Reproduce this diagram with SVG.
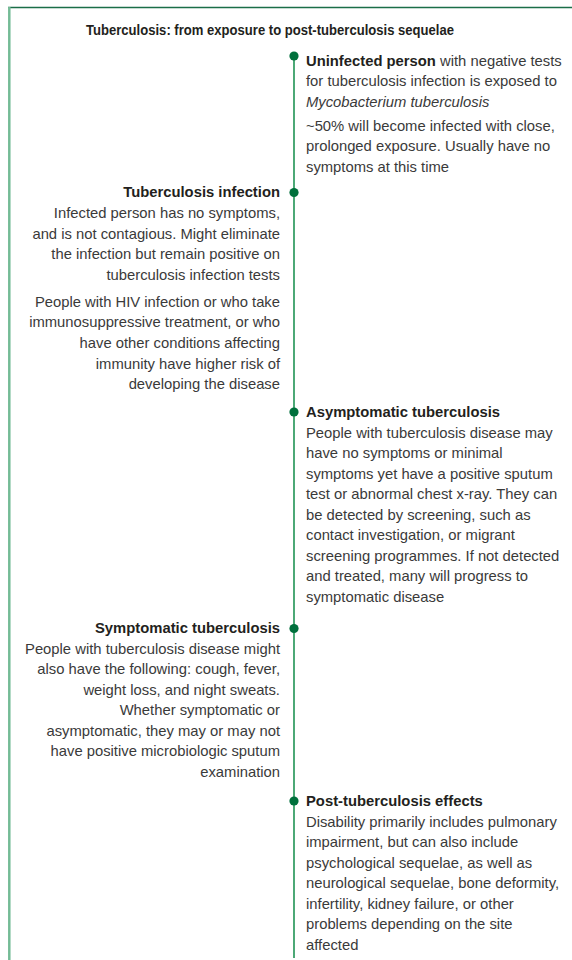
<svg xmlns="http://www.w3.org/2000/svg" width="572" height="960" viewBox="0 0 572 960">
<style>
text{font-family:"Liberation Sans",Arial,sans-serif;font-size:14.8px;fill:#3a3a3a}
.t{font-weight:bold;font-size:14.2px;fill:#231f20}
.h{font-weight:bold;fill:#231f20}
.r{text-anchor:end}
.i{font-style:italic}
.dot{fill:#00703c}
</style>
<rect x="0" y="0" width="572" height="960" fill="#ffffff"/>
<g id="frame">
<line x1="8" y1="7.5" x2="572" y2="7.5" stroke="#1b6e48" stroke-width="1.5"/>
<line x1="9.3" y1="7" x2="9.3" y2="960" stroke="#74bb96" stroke-width="2.5"/>
</g>
<text id="title" class="t" x="86" y="35" textLength="368" lengthAdjust="spacingAndGlyphs">Tuberculosis: from exposure to post-tuberculosis sequelae</text>
<g id="connectors">
<line x1="294" y1="56" x2="294" y2="958" stroke="#00843d" stroke-width="1.4"/>
</g>
<g id="node-uninfected">
<circle class="dot" cx="294" cy="56" r="4.6"/>
<text x="306" y="65.5"><tspan class="h">Uninfected person</tspan> with negative tests</text>
<text x="306" y="86.1">for tuberculosis infection is exposed to</text>
<text x="306" y="106.7" class="i">Mycobacterium tuberculosis</text>
<text x="306" y="130.7">~50% will become infected with close,</text>
<text x="306" y="151.3">prolonged exposure. Usually have no</text>
<text x="306" y="171.9">symptoms at this time</text>
</g>
<g id="node-infection">
<circle class="dot" cx="294" cy="192.5" r="4.6"/>
<text class="r h" x="280" y="197">Tuberculosis infection</text>
<text class="r" x="280" y="218">Infected person has no symptoms,</text>
<text class="r" x="280" y="238.5">and is not contagious. Might eliminate</text>
<text class="r" x="280" y="259">the infection but remain positive on</text>
<text class="r" x="280" y="280">tuberculosis infection tests</text>
<text class="r" x="280" y="306.5">People with HIV infection or who take</text>
<text class="r" x="280" y="327">immunosuppressive treatment, or who</text>
<text class="r" x="280" y="348">have other conditions affecting</text>
<text class="r" x="280" y="368.5">immunity have higher risk of</text>
<text class="r" x="280" y="389">developing the disease</text>
</g>
<g id="node-asymptomatic">
<circle class="dot" cx="294" cy="412" r="4.6"/>
<text class="h" x="306" y="417">Asymptomatic tuberculosis</text>
<text x="306" y="438">People with tuberculosis disease may</text>
<text x="306" y="458">have no symptoms or minimal</text>
<text x="306" y="478.5">symptoms yet have a positive sputum</text>
<text x="306" y="499">test or abnormal chest x-ray. They can</text>
<text x="306" y="520">be detected by screening, such as</text>
<text x="306" y="540">contact investigation, or migrant</text>
<text x="306" y="561">screening programmes. If not detected</text>
<text x="306" y="581">and treated, many will progress to</text>
<text x="306" y="602">symptomatic disease</text>
</g>
<g id="node-symptomatic">
<circle class="dot" cx="294" cy="628.5" r="4.6"/>
<text class="r h" x="280" y="633">Symptomatic tuberculosis</text>
<text class="r" x="280" y="653.5">People with tuberculosis disease might</text>
<text class="r" x="280" y="674">also have the following: cough, fever,</text>
<text class="r" x="280" y="694.5">weight loss, and night sweats.</text>
<text class="r" x="280" y="715">Whether symptomatic or</text>
<text class="r" x="280" y="736">asymptomatic, they may or may not</text>
<text class="r" x="280" y="756">have positive microbiologic sputum</text>
<text class="r" x="280" y="777">examination</text>
</g>
<g id="node-post">
<circle class="dot" cx="294" cy="801" r="4.6"/>
<text class="h" x="306" y="806">Post-tuberculosis effects</text>
<text x="306" y="826.5">Disability primarily includes pulmonary</text>
<text x="306" y="847">impairment, but can also include</text>
<text x="306" y="867.5">psychological sequelae, as well as</text>
<text x="306" y="888">neurological sequelae, bone deformity,</text>
<text x="306" y="908.5">infertility, kidney failure, or other</text>
<text x="306" y="929">problems depending on the site</text>
<text x="306" y="949.5">affected</text>
</g>
</svg>
